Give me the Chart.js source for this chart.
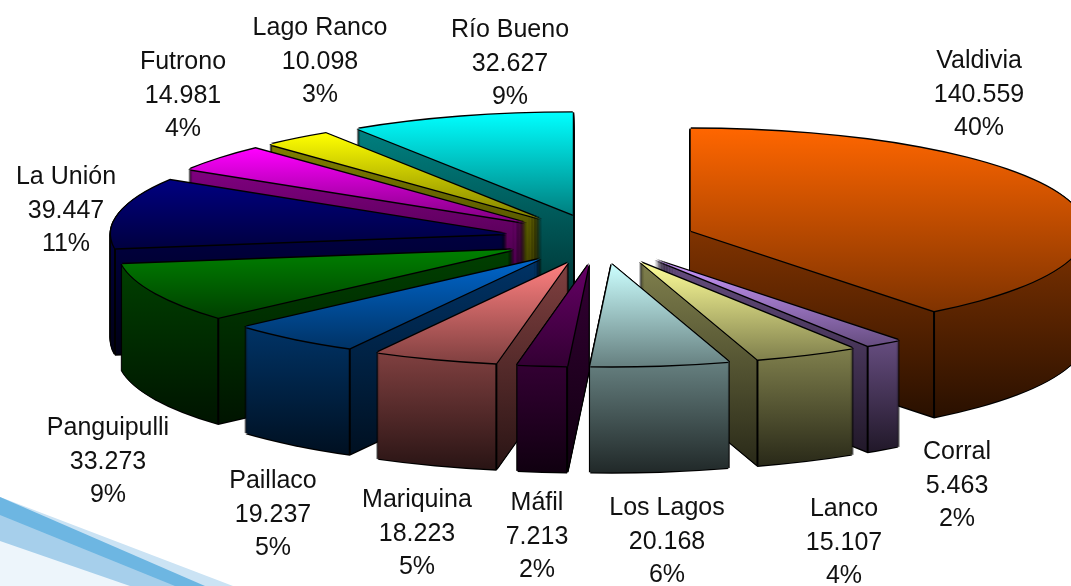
<!DOCTYPE html>
<html lang="es">
<head>
  <meta charset="UTF-8" />
  <title>Población por comuna</title>
  <script src="https://cdn.jsdelivr.net/npm/chart.js"></script>
  <style>
    html, body { margin: 0; padding: 0; background: #fff; overflow: hidden; }
    canvas { display: block; }
  </style>
</head>
<body>
  <canvas id="pie" width="1071" height="586"></canvas>
  <script>
    const comunas = ['Valdivia', 'Corral', 'Lanco', 'Los Lagos', 'Máfil', 'Mariquina', 'Paillaco', 'Panguipulli', 'La Unión', 'Futrono', 'Lago Ranco', 'Río Bueno'];
    const valores = [140559, 5463, 15107, 20168, 7213, 18223, 19237, 33273, 39447, 14981, 10098, 32627];
    const porcentajes = ['40%', '2%', '4%', '6%', '2%', '5%', '5%', '9%', '11%', '4%', '3%', '9%'];
    const colores = ['#ff6600', '#cc99ff', '#ffff99', '#ccffff', '#660066', '#ff8080', '#0066cc', '#008000', '#000080', '#ff00ff', '#ffff00', '#00ffff'];

    // label centres, first line of each block
    const posEtiquetas = [[979, 61], [957, 452], [844, 509], [667, 508], [537, 503], [417, 500], [273, 481], [108, 428], [66, 177], [183, 62], [320, 28], [510, 30]];

    // flattened pie on the page
    const CX = 600, CY = 239, RX = 395, RY = 102, DEPTH = 106, EXPLODE_X = 0.243, EXPLODE_Y = 0.25, LINE = 1.4;

    function hexRgb(h) {
      return [1, 3, 5].map(i => parseInt(h.substr(i, 2), 16));
    }
    function shade(rgb, k) {
      return 'rgb(' + rgb.map(v => Math.round(v * k)).join(',') + ')';
    }
    function puntos(n) {
      return String(n).replace(/\B(?=(\d{3})+$)/g, '.');
    }

    const pie3d = {
      id: 'pie3d',
      beforeDraw(chart) {
        // blue swoosh in the bottom left corner of the slide
        const ctx = chart.ctx;
        const band = (c, y0, x1) => {
          ctx.fillStyle = c;
          ctx.beginPath();
          ctx.moveTo(0, y0);
          ctx.lineTo(x1, 586);
          ctx.lineTo(0, 586);
          ctx.closePath();
          ctx.fill();
        };
        band('#cbe3f4', 497, 233);
        band('#6db6e2', 497, 205);
        band('#a6cfeb', 515, 175);
        band('#edf5fb', 541, 130);
      },
      beforeDatasetsDraw(chart) {
        const ctx = chart.ctx;
        const arcs = chart.getDatasetMeta(0).data;
        const R = arcs[0].outerRadius;
        const sx = RX / R, sy = RY / R;

        const slices = arcs.map((arc, i) => {
          const mid = (arc.startAngle + arc.endAngle) / 2;
          return { arc, rgb: hexRgb(colores[i]), ax: CX + EXPLODE_X * RX * Math.cos(mid), ay: CY + EXPLODE_Y * RY * Math.sin(mid), back: -Math.sin(mid) };
        });
        // back to front
        slices.sort((a, b) => b.back - a.back);

        slices.forEach(s => {
          const arc = s.arc;
          const px = a => s.ax + RX * Math.cos(a);
          const py = a => s.ay + RY * Math.sin(a);

          const paint = (fill, dx, dy) => {
            const shim = Object.create(arc);
            shim.options = Object.assign({}, arc.options, { backgroundColor: fill, borderWidth: 0 });
            ctx.save();
            ctx.translate(s.ax + dx, s.ay + dy);
            ctx.scale(sx, sy);
            ctx.translate(-arc.x, -arc.y);
            arc.draw.call(shim, ctx);
            ctx.restore();
          };
          // vertical gradient given in page y, for a copy of the slice moved down by dy
          const grad = (y0, y1, k0, k1, dy) => {
            const loc = y => arc.y + (y - s.ay - dy) / sy;
            const g = ctx.createLinearGradient(0, loc(y0), 0, loc(y1));
            g.addColorStop(0, shade(s.rgb, k0));
            g.addColorStop(1, shade(s.rgb, k1));
            return g;
          };

          const start = arc.startAngle, end = arc.endAngle;
          const bottom = Math.PI / 2;             // front of the pie, canvas angle
          const rightFace = end < bottom;         // slice on the right shows its end radius
          const leftFace = start > bottom;        // slice on the left shows its start radius

          // outline of the whole block
          for (let dy = DEPTH; dy >= 0; dy--) {
            paint('#000', -LINE, dy);
            paint('#000', LINE, dy);
          }
          paint('#000', 0, DEPTH + LINE);

          // inner radial face
          const faceEnd = rightFace ? py(end) : py(start);
          const faceTop = Math.min(s.ay, faceEnd);
          const faceBot = Math.max(s.ay, faceEnd) + DEPTH;
          for (let dy = DEPTH; dy >= 1; dy--) {
            paint(grad(faceTop, faceBot, 0.5, 0.16, dy), 0, dy);
          }

          // outer curved face, only the part beyond the crease
          const frontA = Math.max(start, 0), frontB = Math.min(end, Math.PI);
          if (frontB > frontA) {
            const ys = [py(frontA), py(frontB)];
            if (frontA < bottom && frontB > bottom) ys.push(py(bottom));
            const xMin = rightFace ? px(end) : -2000;
            const xMax = leftFace ? px(start) : 3000;
            const top = Math.min(...ys), bot = Math.max(...ys) + DEPTH;
            ctx.save();
            ctx.beginPath();
            ctx.rect(xMin, 0, xMax - xMin, 586);
            ctx.clip();
            for (let dy = DEPTH; dy >= 1; dy--) {
              paint(grad(top, bot, 0.5, 0.16, dy), 0, dy);
            }
            ctx.restore();
          }

          // creases between the two faces
          ctx.strokeStyle = '#000';
          ctx.lineWidth = 2;
          if (rightFace && end > 0) {
            ctx.beginPath();
            ctx.moveTo(px(end), py(end));
            ctx.lineTo(px(end), py(end) + DEPTH);
            ctx.stroke();
          }
          if (leftFace && start < Math.PI) {
            ctx.beginPath();
            ctx.moveTo(px(start), py(start));
            ctx.lineTo(px(start), py(start) + DEPTH);
            ctx.stroke();
          }

          // top of the slice
          paint('#000', -LINE, 0);
          paint('#000', LINE, 0);
          paint('#000', 0, -LINE);
          paint('#000', 0, LINE);
          const ysTop = [s.ay, py(start), py(end)];
          if (start < -Math.PI / 2 && end > -Math.PI / 2) ysTop.push(py(-Math.PI / 2));
          if (start < bottom && end > bottom) ysTop.push(py(bottom));
          paint(grad(Math.min(...ysTop), Math.max(...ysTop), 1, 0.5, 0), 0, 0);
        });
        return false;
      },
      afterDraw(chart) {
        const ctx = chart.ctx;
        ctx.save();
        ctx.font = '25px "Liberation Sans", Arial, sans-serif';
        ctx.fillStyle = '#111';
        ctx.textAlign = 'center';
        ctx.textBaseline = 'middle';
        comunas.forEach((c, i) => {
          const p = posEtiquetas[i];
          ctx.fillText(c, p[0], p[1]);
          ctx.fillText(puntos(valores[i]), p[0], p[1] + 33.7);
          ctx.fillText(porcentajes[i], p[0], p[1] + 67.4);
        });
        ctx.restore();
      }
    };

    new Chart(document.getElementById('pie'), {
      type: 'pie',
      data: {
        labels: comunas,
        datasets: [{ data: valores, backgroundColor: colores, borderWidth: 0 }]
      },
      options: {
        responsive: false,
        animation: false,
        plugins: { legend: { display: false }, tooltip: { enabled: false } }
      },
      plugins: [pie3d]
    });
  </script>
</body>
</html>
